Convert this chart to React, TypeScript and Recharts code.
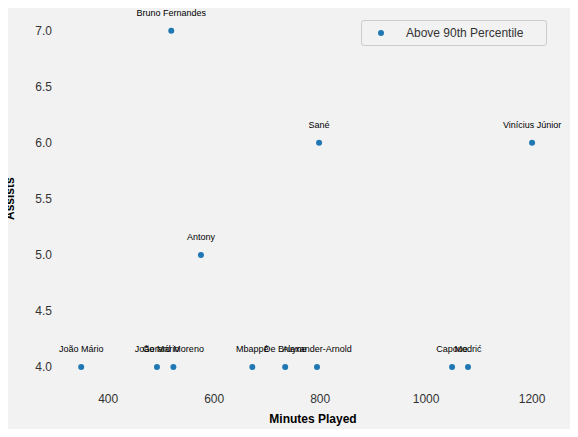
import React from "react";
import { ScatterChart, Scatter, XAxis, YAxis, LabelList } from "recharts";

const players = ["João Mário","João Mário","Gerard Moreno","Antony","Bruno Fernandes","Mbappé","De Bruyne","Alexander-Arnold","Sané","Capoue","Modrić","Vinícius Júnior"];
const minutes = [349,492,523,575,519,672,734,794,798,1049,1079,1200];
const assists = [4,4,4,5,7,4,4,4,6,4,4,6];
const xTicks = [400,600,800,1000,1200];
const yTicks = [4,4.5,5,5.5,6,6.5,7];

const data = players.map((name, i) => ({ name, x: minutes[i], y: assists[i] }));

const Dot = (p: any) => <circle cx={p.cx} cy={p.cy} r={3} fill="#1f77b4" />;

const NameLabel = (p: any) => (
  <text x={p.x + p.width / 2} y={p.y - 10} textAnchor="middle" fontSize={9} fill="#000">{p.value}</text>
);

export default function App() {
  return (
    <div style={{ position: "relative", width: 578, height: 437, background: "#f2f2f2", margin: -8, fontFamily: "Arial, 'Liberation Sans', sans-serif" }}>
      <ScatterChart width={578} height={437} margin={{ top: 14, right: 12, bottom: 0, left: 0 }}>
        <XAxis type="number" dataKey="x" domain={[309, 1264]} ticks={xTicks} axisLine={false} tickLine={false}
          tick={{ fontSize: 12, fill: "#333" }} height={51}
          label={{ value: "Minutes Played", position: "insideBottom", offset: 14, fontSize: 12, fontWeight: "bold", fill: "#000" }} />
        <YAxis type="number" dataKey="y" domain={[3.83, 7.15]} ticks={yTicks} axisLine={false} tickLine={false}
          tickFormatter={(v: number) => v.toFixed(1)} tick={{ fontSize: 12, fill: "#333" }} width={60}
          label={{ value: "Assists", angle: -90, position: "insideLeft", offset: 10, dy: 20, fontSize: 12, fontWeight: "bold", fill: "#000" }} />
        <Scatter data={data} shape={Dot} isAnimationActive={false}>
          <LabelList dataKey="name" content={NameLabel} />
        </Scatter>
      </ScatterChart>
      <div style={{ position: "absolute", left: 361, top: 20, width: 186, height: 26, border: "1px solid #ccc", borderRadius: 3, background: "#f2f2f2", display: "flex", alignItems: "center", fontSize: 12, color: "#333", boxSizing: "border-box" }}>
        <span style={{ display: "inline-block", width: 6, height: 6, borderRadius: 3, background: "#1f77b4", marginLeft: 16, marginRight: 22 }} />
        Above 90th Percentile
      </div>
    </div>
  );
}
